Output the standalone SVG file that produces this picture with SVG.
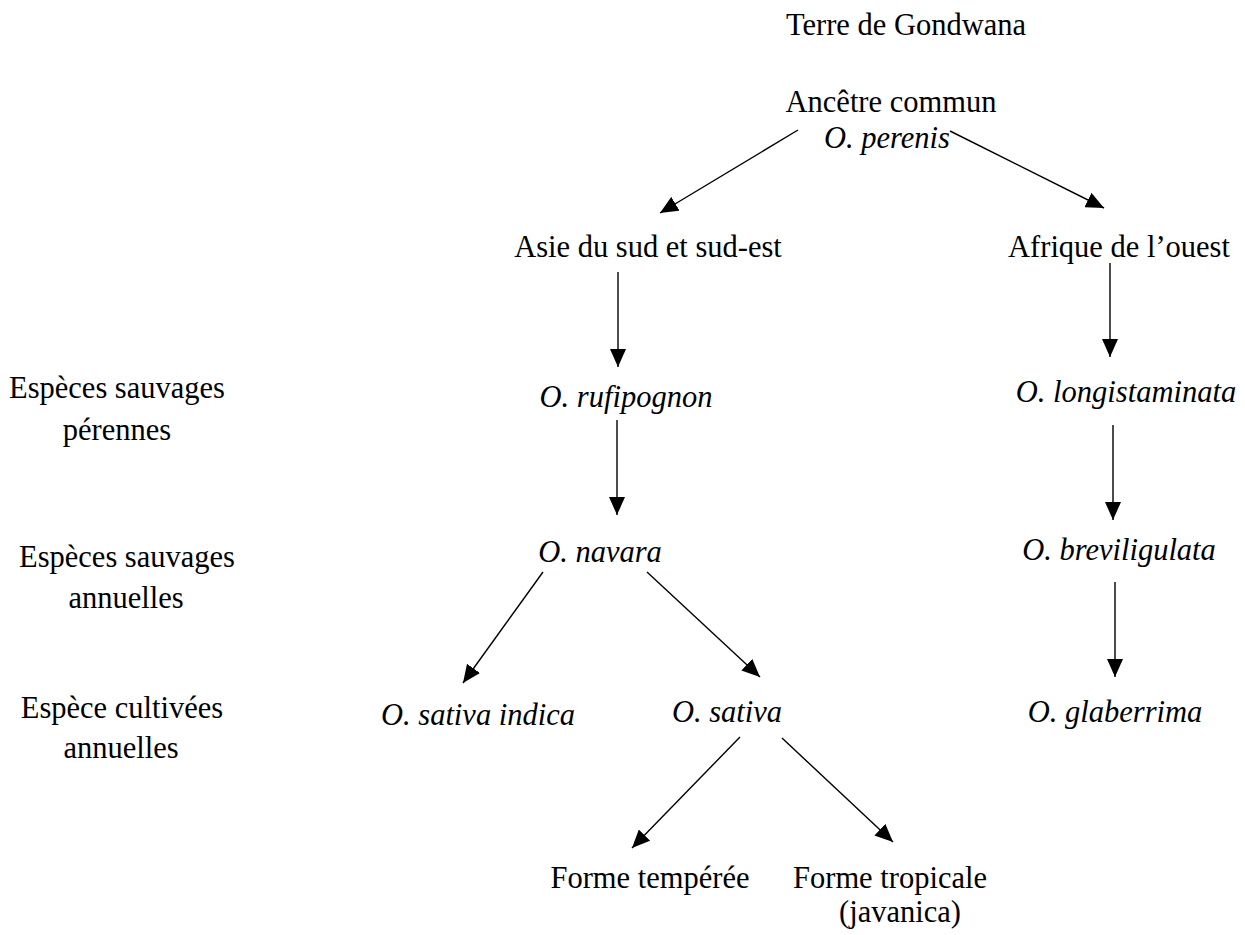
<svg xmlns="http://www.w3.org/2000/svg" width="1245" height="935" viewBox="0 0 1245 935">
<style>
text{font-family:"Liberation Serif","Times New Roman",serif;font-size:30.5px;fill:#000;text-anchor:middle}
.i{font-style:italic}
.c line{stroke:#000;stroke-width:1.4;marker-end:url(#ah)}
</style>
<defs>
<marker id="ah" markerUnits="userSpaceOnUse" markerWidth="20" markerHeight="16" viewBox="0 0 20 16" refX="18" refY="8" orient="auto">
<path d="M0,0 L18,8 L0,16 Z" fill="#000"/>
</marker>
</defs>
<rect width="1245" height="935" fill="#fff"/>
<g id="gondwana"><text x="906" y="35">Terre de Gondwana</text></g>
<g id="ancetre"><text x="891" y="112">Ancêtre commun</text><text class="i" x="887" y="148">O. perenis</text></g>
<g id="asie"><text x="648" y="257">Asie du sud et sud-est</text></g>
<g id="afrique"><text x="1119" y="257">Afrique de l’ouest</text></g>
<g id="rufipognon"><text class="i" x="626" y="407">O. rufipognon</text></g>
<g id="longistaminata"><text class="i" x="1126" y="402">O. longistaminata</text></g>
<g id="navara"><text class="i" x="600" y="562">O. navara</text></g>
<g id="breviligulata"><text class="i" x="1119" y="560">O. breviligulata</text></g>
<g id="indica"><text class="i" x="478" y="725">O. sativa indica</text></g>
<g id="sativa"><text class="i" x="727" y="722">O. sativa</text></g>
<g id="glaberrima"><text class="i" x="1115" y="722">O. glaberrima</text></g>
<g id="temperee"><text x="650" y="888">Forme tempérée</text></g>
<g id="tropicale"><text x="890" y="888">Forme tropicale</text><text x="900" y="922">(javanica)</text></g>
<g id="lbl-perennes"><text x="117" y="398">Espèces sauvages</text><text x="117" y="440">pérennes</text></g>
<g id="lbl-annuelles"><text x="127" y="567">Espèces sauvages</text><text x="126" y="608">annuelles</text></g>
<g id="lbl-cultivees"><text x="122" y="718">Espèce cultivées</text><text x="121" y="758">annuelles</text></g>
<g id="connectors" class="c">
<line x1="798" y1="130" x2="660" y2="213"/>
<line x1="950" y1="131" x2="1104" y2="208"/>
<line x1="618" y1="272" x2="618" y2="367"/>
<line x1="1110" y1="263" x2="1110" y2="357"/>
<line x1="617" y1="420" x2="617" y2="515"/>
<line x1="1113" y1="425" x2="1113" y2="520"/>
<line x1="1115" y1="582" x2="1115" y2="677"/>
<line x1="543" y1="572" x2="463" y2="683"/>
<line x1="647" y1="572" x2="760" y2="677"/>
<line x1="740" y1="737" x2="632" y2="848"/>
<line x1="782" y1="738" x2="893" y2="842"/>
</g>
</svg>
